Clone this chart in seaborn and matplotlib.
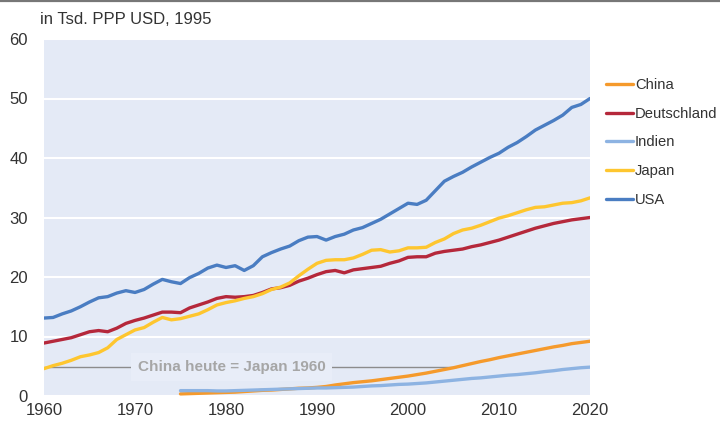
import numpy as np
import pandas as pd
import matplotlib
matplotlib.use("Agg")
import matplotlib.pyplot as plt
from matplotlib.lines import Line2D
import seaborn as sns

# GDP per capita, in thousand PPP USD (1995 prices)
years = list(range(1960, 2021))
years_late = list(range(1975, 2021))

usa = [13.1, 13.2, 13.8, 14.3, 15.0, 15.8, 16.5, 16.7, 17.3, 17.7,
       17.4, 17.9, 18.8, 19.6, 19.2, 18.9, 19.9, 20.6, 21.5, 22.0,
       21.6, 21.9, 21.1, 21.9, 23.4, 24.1, 24.7, 25.2, 26.1, 26.7,
       26.8, 26.2, 26.8, 27.2, 27.9, 28.3, 29.0, 29.7, 30.6, 31.5,
       32.4, 32.2, 32.9, 34.5, 36.1, 36.9, 37.6, 38.5, 39.3, 40.1,
       40.8, 41.8, 42.6, 43.6, 44.7, 45.5, 46.3, 47.2, 48.5, 49.0,
       50.0]
deutschland = [8.9, 9.2, 9.5, 9.8, 10.3, 10.8, 11.0, 10.8, 11.4, 12.2,
               12.7, 13.1, 13.6, 14.1, 14.1, 14.0, 14.8, 15.3, 15.8, 16.4,
               16.7, 16.6, 16.7, 16.9, 17.4, 18.0, 18.2, 18.6, 19.3, 19.8,
               20.4, 20.9, 21.1, 20.7, 21.2, 21.4, 21.6, 21.8, 22.3, 22.7,
               23.3, 23.4, 23.4, 24.0, 24.3, 24.5, 24.7, 25.1, 25.4, 25.8,
               26.2, 26.7, 27.2, 27.7, 28.2, 28.6, 29.0, 29.3, 29.6, 29.8,
               30.0]
japan = [4.6, 5.1, 5.5, 6.0, 6.6, 6.9, 7.3, 8.1, 9.5, 10.3,
         11.1, 11.5, 12.4, 13.2, 12.8, 13.0, 13.4, 13.8, 14.5, 15.3,
         15.7, 16.0, 16.4, 16.7, 17.2, 17.9, 18.3, 19.0, 20.2, 21.3,
         22.3, 22.8, 22.9, 22.9, 23.2, 23.8, 24.5, 24.6, 24.2, 24.4,
         24.9, 24.9, 25.0, 25.8, 26.4, 27.3, 27.9, 28.2, 28.7, 29.3,
         29.9, 30.3, 30.8, 31.3, 31.7, 31.8, 32.1, 32.4, 32.5, 32.8,
         33.3]
china = [0.35, 0.4, 0.45, 0.5, 0.55, 0.6, 0.65, 0.75, 0.85, 0.95,
         1.0, 1.1, 1.2, 1.3, 1.35, 1.45, 1.6, 1.85, 2.05, 2.25,
         2.4, 2.55, 2.75, 2.95, 3.15, 3.35, 3.6, 3.85, 4.15, 4.45,
         4.75, 5.1, 5.45, 5.8, 6.1, 6.45, 6.75, 7.05, 7.35, 7.65,
         7.95, 8.25, 8.5, 8.8, 9.0, 9.2]
indien = [0.9, 0.9, 0.9, 0.9, 0.85, 0.85, 0.9, 0.95, 1.0, 1.05,
          1.1, 1.15, 1.2, 1.25, 1.3, 1.35, 1.35, 1.4, 1.45, 1.5,
          1.6, 1.7, 1.75, 1.85, 1.95, 2.0, 2.1, 2.2, 2.35, 2.5,
          2.65, 2.8, 2.95, 3.05, 3.2, 3.35, 3.5, 3.6, 3.75, 3.9,
          4.1, 4.25, 4.45, 4.6, 4.75, 4.85]

countries = ["China", "Deutschland", "Indien", "Japan", "USA"]
colors = ["#F59A2C", "#B5283B", "#8DB3E2", "#FEC62F", "#4A7DC2"]
japan_1960_level = 4.85
annot_text = "China heute = Japan 1960"

frames = [
    pd.DataFrame({"year": years_late, "value": china, "land": "China"}),
    pd.DataFrame({"year": years, "value": deutschland, "land": "Deutschland"}),
    pd.DataFrame({"year": years_late, "value": indien, "land": "Indien"}),
    pd.DataFrame({"year": years, "value": japan, "land": "Japan"}),
    pd.DataFrame({"year": years, "value": usa, "land": "USA"}),
]
df = pd.concat(frames, ignore_index=True)

bg = "#E4EAF6"
text_col = "#333333"
sns.set_style("white", {"axes.facecolor": bg})
plt.rcParams["font.family"] = ["Liberation Sans", "DejaVu Sans"]

fig = plt.figure(figsize=(7.2, 4.32), dpi=100)
ax = fig.add_axes([44 / 720, 1 - 396 / 432, 546 / 720, 357 / 432])

sns.lineplot(data=df, x="year", y="value", hue="land", hue_order=countries,
             palette=colors, linewidth=2.4, ax=ax, legend=False)

# line where China reaches Japan's 1960 level
cross_year = np.interp(japan_1960_level, china, years_late)
ax.plot([years[0], cross_year], [japan_1960_level] * 2, color="#8C8C8C",
        linewidth=1.0, zorder=1)
ax.text(1980.6, japan_1960_level, annot_text, ha="center", va="center",
        fontsize=11, fontweight="bold", color="#A6A6A6", zorder=2,
        bbox=dict(boxstyle="square,pad=0.45", facecolor="#E8EDF8",
                  edgecolor="none"))

ax.set_xlim(1960, 2020)
ax.set_ylim(0, 60)
ax.set_xticks(range(1960, 2021, 10))
ax.set_yticks(range(0, 61, 10))
ax.grid(axis="y", color="white", linewidth=1.5)
ax.set_axisbelow(True)
ax.tick_params(axis="both", length=0, labelsize=12, labelcolor=text_col)
ax.tick_params(axis="x", pad=5)
ax.tick_params(axis="y", pad=11.5)
ax.set_xlabel("")
ax.set_ylabel("")
sns.despine(ax=ax, left=True, bottom=True)

handles = [Line2D([0], [0], color=c, linewidth=2.4) for c in colors]
fig.legend(handles, countries, loc="upper left",
           bbox_to_anchor=(606 / 720, 1 - 78 / 432), frameon=False,
           fontsize=10.6, handlelength=1.85, handletextpad=0.12,
           labelspacing=1.0, borderpad=0, borderaxespad=0,
           labelcolor=text_col)

fig.text(40 / 720, 1 - 20 / 432, "in Tsd. PPP USD, 1995", fontsize=12,
         color=text_col, va="center", ha="left")
fig.add_artist(Line2D([0, 1], [1 - 0.8 / 432] * 2, color="#777777",
                      linewidth=1.6, transform=fig.transFigure))

fig.savefig("out.png", dpi=100)
